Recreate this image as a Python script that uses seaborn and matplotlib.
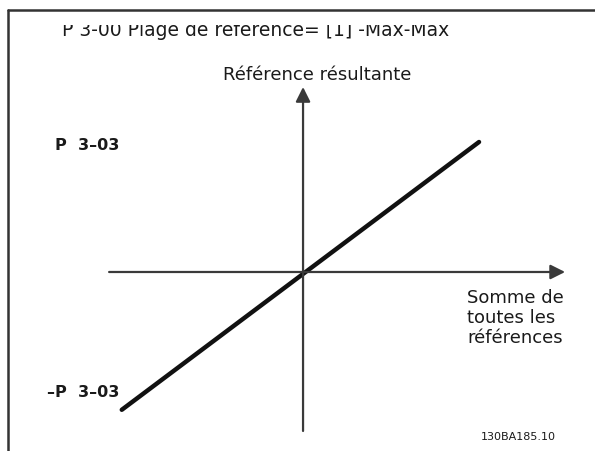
import matplotlib
matplotlib.use("Agg")
import matplotlib.pyplot as plt
import seaborn as sns
import pandas as pd
from matplotlib.transforms import Bbox

# Reference characteristic for P 3-00 = [1] -Max-Max
somme_refs = [-1.03, 1.0]      # sum of all references (in units of P 3-03)
ref_resultante = [-1.06, 1.0]  # resulting reference (in units of P 3-03)

title_text = "P 3-00 Plage de référence= [1] -Max-Max"
y_label = "Référence résultante"
x_label = "Somme de\ntoutes les\nréférences"
pos_tick = "P  3\u201303"
neg_tick = "\u2013P  3\u201303"
drawing_id = "130BA185.10"

sns.set_style("white")
plt.rcParams["font.family"] = ["DejaVu Sans"]

W, H = 595, 452
fig = plt.figure(figsize=(W / 100, H / 100), dpi=100)
ax = fig.add_axes([0, 0, 1, 1])
ax.set_xlim(-1.722, 1.659)
ax.set_ylim(-1.377, 2.1)
ax.axis("off")

df = pd.DataFrame({"somme": somme_refs, "ref": ref_resultante})
sns.lineplot(data=df, x="somme", y="ref", ax=ax, color="#111111",
             linewidth=3.2, solid_capstyle="round", zorder=3)

axis_col = "#3a3a3a"
# horizontal axis with arrow
ax.annotate("", xy=(1.489, 0), xytext=(-1.102, 0),
            arrowprops=dict(arrowstyle="-|>", color=axis_col, lw=1.6,
                            mutation_scale=22, shrinkA=0, shrinkB=0))
# vertical axis with arrow
ax.annotate("", xy=(0, 1.423), xytext=(0, -1.223),
            arrowprops=dict(arrowstyle="-|>", color=axis_col, lw=1.6,
                            mutation_scale=22, shrinkA=0, shrinkB=0))

# frame (top and left edges)
fig.add_artist(plt.Line2D([0.014, 1.0], [1 - 11 / H, 1 - 11 / H],
                          transform=fig.transFigure, color="#333333", lw=1.8))
fig.add_artist(plt.Line2D([0.014, 0.014], [0, 1 - 11 / H],
                          transform=fig.transFigure, color="#333333", lw=1.8))

txt_col = "#1a1a1a"
fs = 13
# header line, its upper part hidden by the frame band
title = fig.text(62 / W, 1 - 36 / H, title_text, fontsize=13.5, color=txt_col,
                 ha="left", va="baseline")
title.set_clip_box(Bbox.from_extents(0, 0, W, H - 26))
title.set_clip_on(True)

fig.text(317 / W, 1 - 75 / H, y_label, fontsize=fs, color=txt_col,
         ha="center", va="center")
fig.text(55 / W, 1 - 146 / H, pos_tick, fontsize=11.5, color=txt_col,
         ha="left", va="center", fontweight="bold")
fig.text(47 / W, 1 - 393 / H, neg_tick, fontsize=11.5, color=txt_col,
         ha="left", va="center", fontweight="bold")
fig.text(467 / W, 1 - 318 / H, x_label, fontsize=fs, color=txt_col,
         ha="left", va="center", linespacing=1.17)
fig.text(518 / W, 1 - 437 / H, drawing_id, fontsize=8, color=txt_col,
         ha="center", va="center")

fig.savefig("out.png", dpi=100, facecolor="white")
